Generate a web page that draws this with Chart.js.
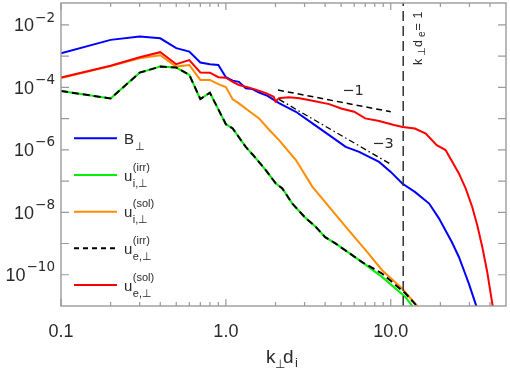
<!DOCTYPE html>
<html><head><meta charset="utf-8">
<script src="https://cdn.jsdelivr.net/npm/chart.js@4"></script>
<style>html,body{margin:0;padding:0;background:#fff;}canvas{display:block;}</style>
</head><body>
<canvas id="c" width="510" height="371"></canvas>
<script>
// ---- data (k_perp d_i, spectra) ----
const kB = [0.1,0.2,0.3,0.4,0.5,0.6,0.7,0.8,0.9,1.0,1.1,1.2,1.32,1.45,1.59,1.79,2.1,2.66,3.35,4.23,5.33,6.43,7.39,8.5,10,11.75,14,17.1,19.6,21.5,23.5,25.9,27.8,29.8,32.7,34];
const valB = [1.23e-3,3.3e-3,4.2e-3,3.7e-3,1.79e-3,1.39e-3,6.2e-4,5.5e-4,5.2e-4,2.1e-4,1.63e-4,1.5e-4,9.3e-5,8.8e-5,6.8e-5,5.3e-5,3.1e-5,1.65e-5,7.0e-6,2.95e-6,1.24e-6,8.6e-7,5.9e-7,4.1e-7,1.96e-7,8.3e-8,4.5e-8,1.9e-8,6.4e-9,2.6e-9,1.1e-9,3.7e-10,1.37e-10,5.1e-11,1.17e-11,6e-12];

const kUiIrr = [0.1,0.2,0.3,0.4,0.5,0.6,0.7,0.8,0.9,1.0,1.1,1.32,1.5,1.75,2.01,2.2,2.53,3.0,3.51,4.0,4.64,5.5,6.73,8.89,12.3,13.5,14];
const valUiIrr = [7.6e-5,4.4e-5,2.95e-4,4.6e-4,4.3e-4,2.5e-4,4.2e-5,6.7e-5,1.97e-5,6.6e-6,4.8e-6,1.24e-6,5.8e-7,2.2e-7,8.3e-8,5.75e-8,1.9e-8,7.1e-9,3.4e-9,1.6e-9,9.9e-10,5.3e-10,2.5e-10,8.4e-11,1.9e-11,1.0e-11,7e-12];

const kUiSol = [0.1,0.2,0.3,0.4,0.5,0.6,0.7,0.8,0.9,1.0,1.1,1.2,1.4,1.59,1.8,2.1,2.66,3.35,4.23,5.58,7.06,8.89,11.75,14.4,15];
const valUiSol = [2.0e-4,4.8e-4,8.5e-4,1.06e-3,4.6e-4,5.2e-4,1.72e-4,1.72e-4,1.26e-4,1.02e-4,4.1e-5,3.07e-5,1.65e-5,1.01e-5,4.8e-6,2.04e-6,4.7e-7,6.5e-8,1.48e-8,2.6e-9,6.0e-10,1.37e-10,3.56e-11,1.03e-11,7e-12];

const kUeIrr = [0.1,0.2,0.3,0.4,0.5,0.6,0.7,0.8,0.9,1.0,1.1,1.32,1.5,1.75,2.01,2.2,2.53,3.0,3.51,4.0,4.64,5.5,6.73,8.89,12.3,14.4,15];
const valUeIrr = [7.6e-5,4.4e-5,2.95e-4,4.6e-4,4.3e-4,2.5e-4,4.2e-5,6.7e-5,1.97e-5,6.6e-6,4.8e-6,1.24e-6,5.8e-7,2.2e-7,8.3e-8,5.75e-8,1.9e-8,7.1e-9,3.4e-9,1.6e-9,9.9e-10,5.3e-10,2.5e-10,1.08e-10,2.5e-11,1.0e-11,7e-12];

const kUeSol = [0.1,0.2,0.3,0.4,0.5,0.6,0.7,0.8,0.9,1.0,1.1,1.2,1.32,1.5,1.75,1.95,2.0,2.1,2.4,2.8,3.35,4.23,5.0,6.0,7.0,8.5,10.47,11.8,14,16.3,19,21.5,25.9,28.5,31.2,33.5,35.9,38.5,41.3,43];
const valUeSol = [2.04e-4,4.9e-4,9.2e-4,1.33e-3,5.5e-4,7.4e-4,3.0e-4,2.95e-4,2.1e-4,2.04e-4,1.5e-4,1.19e-4,1.05e-4,8.6e-5,6.5e-5,5.0e-5,3.5e-5,4.5e-5,4.8e-5,4.5e-5,3.7e-5,2.9e-5,2.1e-5,1.65e-5,1.01e-5,8.3e-6,6.2e-6,5.4e-6,4.8e-6,3.3e-6,1.41e-6,9.8e-7,1.75e-7,5.7e-8,1.48e-8,3.8e-9,7.7e-10,1.2e-10,1.17e-11,4e-12];

// reference slopes and k_perp d_e = 1 marker
const kSlope1 = [2.07, 10];
const valSlope1 = [8.2e-5, 1.65e-5];
const kSlope3 = [2.1, 10];
const valSlope3 = [4.1e-5, 3.46e-7];
const kDe = 11.9;

// axes
const xMin = 0.1, xMax = 50, yMin = 1e-11, yMax = 5e-2;
const xMajorTicks = [0.1, 1, 10];
const xMajorLabels = ['0.1', '1.0', '10.0'];
const xMinorTicks = [0.2,0.3,0.4,0.5,0.6,0.7,0.8,0.9,2,3,4,5,6,7,8,9,20,30,40];
const yTicks = [1e-10,1e-9,1e-8,1e-7,1e-6,1e-5,1e-4,1e-3,1e-2];
const yLabelTicks = [1e-2,1e-4,1e-6,1e-8,1e-10];
const yLabelExps = ['\u22122','\u22124','\u22126','\u22128','\u221210'];

// legend text
const legBase = ['B','u','u','u','u'];
const legSub = ['\u22a5','i,\u22a5','i,\u22a5','e,\u22a5','e,\u22a5'];
const legSup = ['','(irr)','(sol)','(irr)','(sol)'];

const pts = (ks, vs) => ks.map((k, i) => ({x: k, y: vs[i]}));

const series = [
  {k: kB, v: valB, color: '#0000ff', dash: [], order: 5},
  {k: kUiIrr, v: valUiIrr, color: '#00f000', dash: [], order: 4},
  {k: kUiSol, v: valUiSol, color: '#ff8c00', dash: [], order: 3},
  {k: kUeIrr, v: valUeIrr, color: '#000000', dash: [7,4], order: 2},
  {k: kUeSol, v: valUeSol, color: '#ff0000', dash: [], order: 1}
];

const datasets = series.map(s => ({
  data: pts(s.k, s.v), borderColor: s.color, borderWidth: 2, borderDash: s.dash,
  pointRadius: 0, tension: 0, fill: false, order: s.order
}));
datasets.push({data: pts(kSlope1, valSlope1), borderColor: '#000', borderWidth: 1.5, borderDash: [6,4], pointRadius: 0, order: 0});
datasets.push({data: pts(kSlope3, valSlope3), borderColor: '#000', borderWidth: 1.3, borderDash: [6,3,1.5,3], pointRadius: 0, order: 0});
datasets.push({data: [{x: kDe, y: yMin}, {x: kDe, y: yMax}], borderColor: '#333', borderWidth: 1.5, borderDash: [10,5], pointRadius: 0, order: 0});

const TXT = '#2a2a2a';
const deco = {
  id: 'deco',
  afterDatasetsDraw(chart) {
    const ctx = chart.ctx, xs = chart.scales.x, ys = chart.scales.y, a = chart.chartArea;
    ctx.save();
    // frame
    ctx.strokeStyle = '#9a9a9a'; ctx.lineWidth = 1.4; ctx.setLineDash([]);
    ctx.strokeRect(a.left, a.top, a.right - a.left, a.bottom - a.top);
    // ticks
    ctx.beginPath();
    const xt = (v, len) => { const px = xs.getPixelForValue(v);
      ctx.moveTo(px, a.bottom); ctx.lineTo(px, a.bottom - len);
      ctx.moveTo(px, a.top); ctx.lineTo(px, a.top + len); };
    xMajorTicks.forEach(v => xt(v, 7));
    xMinorTicks.forEach(v => xt(v, 4));
    yTicks.forEach(v => { const py = ys.getPixelForValue(v);
      ctx.moveTo(a.left, py); ctx.lineTo(a.left + 8, py);
      ctx.moveTo(a.right, py); ctx.lineTo(a.right - 8, py); });
    ctx.lineWidth = 1.2; ctx.stroke();

    ctx.fillStyle = TXT;
    // x labels
    ctx.font = '18px "Liberation Sans"'; ctx.textAlign = 'center'; ctx.textBaseline = 'alphabetic';
    xMajorTicks.forEach((v, i) => ctx.fillText(xMajorLabels[i], xs.getPixelForValue(v), 336.5));
    // y labels
    ctx.textAlign = 'left';
    yLabelTicks.forEach((v, i) => {
      const py = ys.getPixelForValue(v);
      ctx.font = '13.5px "DejaVu Sans"';
      const wE = ctx.measureText(yLabelExps[i]).width;
      ctx.fillText(yLabelExps[i], 55 - wE, py - 3.3);
      ctx.font = '18px "Liberation Sans"';
      const w10 = ctx.measureText('10').width;
      ctx.fillText('10', 55 - wE - w10 - 1, py + 6.5);
    });
    // x title k_perp d_i
    ctx.font = '19px "Liberation Sans"'; ctx.fillText('k', 266, 363.3);
    ctx.font = '12px "DejaVu Sans"'; ctx.fillText('\u22a5', 275, 368);
    ctx.font = '19px "Liberation Sans"'; ctx.fillText('d', 283, 363.3);
    const wd = ctx.measureText('d').width;
    ctx.font = '13px "Liberation Sans"'; ctx.fillText('i', 283 + wd + 1.5, 366.5);

    // slope labels
    ctx.font = '14.5px "DejaVu Sans"'; ctx.textAlign = 'center'; ctx.textBaseline = 'middle';
    ctx.fillText('\u22121', 353, 91);
    ctx.fillText('\u22123', 383, 144);

    // vertical label k_perp d_e = 1
    ctx.save();
    ctx.translate(421.5, 65); ctx.rotate(-Math.PI / 2);
    ctx.textAlign = 'left'; ctx.textBaseline = 'alphabetic';
    ctx.font = '12.5px "Liberation Sans"'; ctx.fillText('k', 0, 0);
    ctx.font = '10px "DejaVu Sans"'; ctx.fillText('\u22a5', 9, 3);
    ctx.font = '12.5px "Liberation Sans"'; ctx.fillText('d', 18, 0);
    ctx.font = '10px "Liberation Sans"'; ctx.fillText('e', 28, 3);
    ctx.font = '12.5px "Liberation Sans"'; ctx.fillText('=', 34.5, 0);
    ctx.fillText('1', 46.5, 0);
    ctx.restore();

    // legend
    const legY = [138.3, 175, 211.7, 248.3, 285];
    series.forEach((s, i) => {
      const y = legY[i];
      ctx.beginPath(); ctx.strokeStyle = s.color; ctx.lineWidth = 2;
      ctx.setLineDash(s.dash.length ? [5, 4] : []);
      ctx.moveTo(74, y); ctx.lineTo(117, y); ctx.stroke();
      ctx.setLineDash([]);
      ctx.fillStyle = TXT; ctx.textAlign = 'left'; ctx.textBaseline = 'alphabetic';
      ctx.font = '15px "Liberation Sans"';
      ctx.fillText(legBase[i], 124, y + 5.7);
      const wb = ctx.measureText(legBase[i]).width;
      ctx.font = '11px "Liberation Sans"';
      ctx.fillText(legSub[i], 124 + wb + 0.5, y + 11.5);
      if (legSup[i]) ctx.fillText(legSup[i], 124 + wb + 0.5, y - 4.5);
    });
    ctx.restore();
  }
};

new Chart(document.getElementById('c'), {
  type: 'line',
  data: {datasets},
  options: {
    responsive: false, animation: false,
    layout: {padding: {left: 61, right: 4, top: 3, bottom: 65}},
    plugins: {legend: {display: false}, tooltip: {enabled: false}},
    scales: {
      x: {type: 'logarithmic', min: xMin, max: xMax, display: false},
      y: {type: 'logarithmic', min: yMin, max: yMax, display: false}
    }
  },
  plugins: [deco]
});
</script>
</body></html>
